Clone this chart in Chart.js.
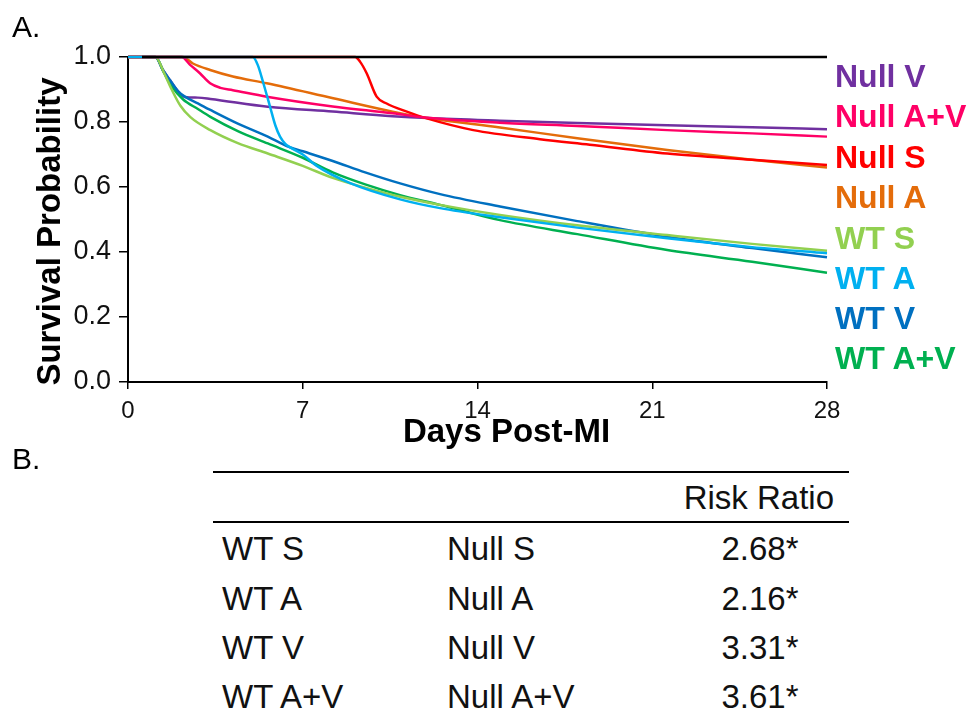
<!DOCTYPE html>
<html>
<head>
<meta charset="utf-8">
<script src="https://cdn.jsdelivr.net/npm/chart.js@4.4.1/dist/chart.umd.min.js"></script>
<style>
  html, body { margin:0; padding:0; background:#fff; }
  body { width:975px; height:715px; position:relative; overflow:hidden; font-family:'Liberation Sans', Arial, sans-serif; color:#000; }
  #wrap { position:absolute; left:0; top:0; width:975px; height:460px; }
  .lbl { position:absolute; font-size:30px; line-height:30px; }
  .lg { position:absolute; left:835px; font-weight:bold; font-size:32px; line-height:40px; height:40px; white-space:nowrap; }
  .rule { position:absolute; left:213px; width:636px; height:0; border-top:2px solid #000; }
  .cell { position:absolute; font-size:33px; line-height:40px; height:40px; white-space:nowrap; color:#111; }
</style>
</head>
<body>
<div id="wrap"><canvas id="c" width="975" height="460"></canvas></div>
<div class="lbl" style="left:12px;top:12px;">A.</div>
<div class="lbl" style="left:12px;top:444px;">B.</div>
<div id="legend"></div>
<div class="rule" style="top:471px;"></div>
<div class="rule" style="top:521px;"></div>
<div id="table"></div>
<script>
// ---- data ----
const seriesNames = ['Null V','Null A+V','Null S','Null A','WT S','WT A','WT V','WT A+V'];
const seriesColors = ['#7030A0','#FF0066','#FF0000','#E46C0A','#92D050','#00B0F0','#0070C0','#00B050'];

const nullVDays = [0,1.1,1.4,1.68,2.0,2.28,2.8,3.3,5.6,8.2,10.6,12,14.9,18,21.6,25,28];
const nullVVals = [1,1,0.96,0.929,0.895,0.877,0.875,0.871,0.847,0.832,0.818,0.812,0.804,0.797,0.79,0.784,0.778];

const nullAVDays = [0,2.15,2.5,2.88,3.29,3.7,4.2,5.56,8.2,10.6,12,14.9,18,21.6,25,28];
const nullAVVals = [1,1,0.975,0.95,0.919,0.905,0.898,0.878,0.848,0.827,0.813,0.798,0.788,0.775,0.765,0.755];

const nullSDays = [0,9.1,9.3,9.56,9.96,10.36,11.17,11.97,13.83,16.5,18.5,21.6,25,28];
const nullSVals = [1,1,0.985,0.95,0.878,0.857,0.832,0.811,0.775,0.747,0.73,0.703,0.684,0.668];

const nullADays = [0,2.2,2.6,3.29,4.2,5.56,8.22,10.6,12,14.9,18,21.6,25,28];
const nullAVals = [1,1,0.98,0.96,0.94,0.919,0.873,0.832,0.812,0.783,0.75,0.714,0.684,0.66];

const wtSDays = [0,1.1,1.45,1.75,2.1,2.5,3.3,4.4,5.6,7,8.2,9.5,10.9,12.5,14.9,18,21.6,25,28];
const wtSVals = [1,1,0.95,0.9,0.85,0.815,0.775,0.735,0.703,0.665,0.628,0.598,0.57,0.545,0.514,0.482,0.452,0.425,0.404];

const wtADays = [0,5.0,5.2,5.42,5.69,5.9,6.09,6.3,6.5,7.0,7.56,8.9,10.9,12.5,14.9,18,21.6,25,28];
const wtAVals = [1,1,0.975,0.92,0.847,0.79,0.755,0.733,0.722,0.7,0.665,0.612,0.562,0.535,0.507,0.475,0.442,0.415,0.396];

const wtVDays = [0,1.1,1.4,1.68,2.0,2.28,2.8,3.3,4.4,5.6,6.36,7,8.2,9.5,10.9,12.5,14.9,18,21.6,25,28];
const wtVVals = [1,1,0.96,0.929,0.895,0.878,0.857,0.837,0.795,0.755,0.726,0.71,0.68,0.645,0.611,0.578,0.54,0.495,0.447,0.412,0.384];

const wtAVDays = [0,1.1,1.45,1.75,2.2,2.8,3.3,4.4,5.6,7,8.2,9.5,10.9,12.5,14.9,18,21.6,25,28];
const wtAVVals = [1,1,0.95,0.91,0.87,0.84,0.816,0.772,0.734,0.69,0.645,0.608,0.575,0.545,0.498,0.455,0.406,0.37,0.336];

const topLineDays = [0.56, 28];
const topLineVals = [1, 1];

const xTickValues = [0,7,14,21,28];
const yTickValues = [0,0.2,0.4,0.6,0.8,1.0];
const yTickLabels = ['0.0','0.2','0.4','0.6','0.8','1.0'];

const tableHeader = 'Risk Ratio';
const tableWT = ['WT S','WT A','WT V','WT A+V'];
const tableNull = ['Null S','Null A','Null V','Null A+V'];
const tableRatio = ['2.68*','2.16*','3.31*','3.61*'];

// ---- build ----
const allDays = [nullVDays,nullAVDays,nullSDays,nullADays,wtSDays,wtADays,wtVDays,wtAVDays];
const allVals = [nullVVals,nullAVVals,nullSVals,nullAVals,wtSVals,wtAVals,wtVVals,wtAVVals];
const drawOrder = [2,1,1,1,1,0,1,1];
const pts = (d,v) => d.map((x,i)=>({x:x,y:v[i]}));

const datasets = seriesNames.map((n,i)=>({
  label:n, data:pts(allDays[i],allVals[i]), borderColor:seriesColors[i],
  borderWidth:2.5, pointRadius:0, cubicInterpolationMode:'monotone', fill:false, clip:false, order:drawOrder[i]
}));
datasets.push({label:'top', data:pts(topLineDays,topLineVals), borderColor:'#000', borderWidth:2.5,
  pointRadius:0, fill:false, clip:false, order:-1});

// shift axis titles slightly, as in the reference figure
const titleShift = {
  id:'titleShift',
  afterLayout(chart){
    const shifts = {x:[29,2], y:[0,12]};
    Object.keys(shifts).forEach(k=>{
      const s = chart.scales[k];
      if (!s || s._tShift || typeof s.drawTitle !== 'function') return;
      const orig = s.drawTitle;
      const [dx,dy] = shifts[k];
      s.drawTitle = function(...a){ const c=this.ctx; c.save(); c.translate(dx,dy); orig.apply(this,a); c.restore(); };
      s._tShift = true;
    });
  }
};

new Chart(document.getElementById('c'), {
  type:'line',
  data:{datasets},
  plugins:[titleShift],
  options:{
    responsive:false, animation:false, devicePixelRatio:1,
    layout:{padding:{top:57,right:148,bottom:0,left:0}},
    plugins:{legend:{display:false}, tooltip:{enabled:false}},
    scales:{
      x:{type:'linear', min:0, max:28,
        afterBuildTicks:s=>{ s.ticks = xTickValues.map(v=>({value:v})); },
        afterFit:s=>{ s.height = 78; },
        ticks:{font:{family:'Liberation Sans', size:24}, color:'#111', padding:8, maxRotation:0, autoSkip:false},
        grid:{display:true, drawOnChartArea:false, drawTicks:true, tickLength:7, color:'#000', lineWidth:1.5},
        border:{display:true, color:'#000', width:2},
        title:{display:true, text:'Days Post-MI', color:'#000', font:{family:'Liberation Sans', size:33, weight:'bold'}, padding:{top:0,bottom:9}}
      },
      y:{type:'linear', min:0, max:1,
        afterBuildTicks:s=>{ s.ticks = yTickValues.map(v=>({value:v})); },
        afterFit:s=>{ s.width = 128; },
        ticks:{font:{family:'Liberation Sans', size:27}, color:'#111', padding:8,
          callback:(v)=>{ const k = yTickValues.findIndex(t=>Math.abs(t-v)<1e-9); return k>=0 ? yTickLabels[k] : ''; }},
        grid:{display:true, drawOnChartArea:false, drawTicks:true, tickLength:9, color:'#000', lineWidth:1.5},
        border:{display:true, color:'#000', width:2},
        title:{display:true, text:'Survival Probability', color:'#000', font:{family:'Liberation Sans', size:33, weight:'bold'}, padding:{top:31,bottom:0}}
      }
    }
  }
});

// legend labels (right side)
const legendTops = [56,96,137,177,218,258,298,338];
const lg = document.getElementById('legend');
seriesNames.forEach((n,i)=>{
  const d = document.createElement('div');
  d.className='lg'; d.textContent=n; d.style.color=seriesColors[i]; d.style.top=legendTops[i]+'px';
  lg.appendChild(d);
});

// table
const tb = document.getElementById('table');
function cell(text,left,top,align){
  const d=document.createElement('div'); d.className='cell'; d.textContent=text; d.style.top=top+'px';
  if(align==='right'){ d.style.right=(975-left)+'px'; }
  else if(align==='center'){ d.style.left=(left-80)+'px'; d.style.width='160px'; d.style.textAlign='center'; }
  else { d.style.left=left+'px'; }
  tb.appendChild(d);
}
cell(tableHeader, 834, 478, 'right');
const rowTops=[529,579,628,677];
tableWT.forEach((t,i)=>{
  cell(t,222,rowTops[i]);
  cell(tableNull[i],447,rowTops[i]);
  cell(tableRatio[i],760,rowTops[i],'center');
});
</script>
</body>
</html>
